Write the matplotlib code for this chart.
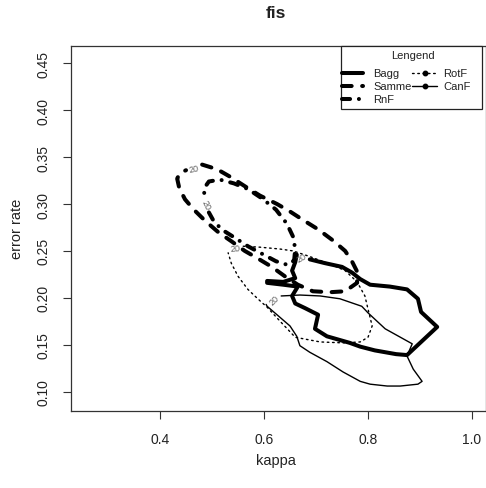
#########################################################
#
#  Kappa / error-rate density contours for the fis data
#  (20% level of each ensemble method)
#
#########################################################

import matplotlib
matplotlib.use('Agg')
from matplotlib import pyplot as plt
from matplotlib.lines import Line2D
from matplotlib.patches import Rectangle

plt.rcParams['font.family'] = ['Liberation Sans', 'DejaVu Sans']

#########################################################
### Contour paths, level 20 (kappa, error rate)
# paths start and stop at the gap left for the "20" label

bagg_kappa = [0.688, 0.717, 0.750, 0.769, 0.785, 0.804, 0.842, 0.875, 0.896, 0.902,
              0.933, 0.875, 0.854, 0.813, 0.785, 0.765, 0.721, 0.698, 0.704, 0.679,
              0.660, 0.654, 0.665, 0.637, 0.606, 0.606, 0.637, 0.660, 0.654, 0.660, 0.663]
bagg_err = [0.241, 0.237, 0.233, 0.227, 0.220, 0.214, 0.212, 0.209, 0.199, 0.185,
            0.169, 0.139, 0.140, 0.144, 0.148, 0.152, 0.159, 0.167, 0.182, 0.189,
            0.194, 0.202, 0.212, 0.214, 0.216, 0.218, 0.217, 0.221, 0.229, 0.238, 0.246]
bagg_label = (0.673, 0.243, 30)

samme_kappa = [0.481, 0.510, 0.535, 0.563, 0.592, 0.625, 0.650, 0.675, 0.704, 0.733,
               0.756, 0.769, 0.779, 0.779, 0.756, 0.727, 0.694, 0.665, 0.640, 0.615,
               0.588, 0.563, 0.538, 0.512, 0.487, 0.465, 0.448, 0.437, 0.433, 0.438, 0.450]
samme_err = [0.342, 0.337, 0.329, 0.319, 0.309, 0.300, 0.292, 0.283, 0.273, 0.261,
             0.250, 0.239, 0.228, 0.216, 0.207, 0.206, 0.207, 0.214, 0.223, 0.233,
             0.242, 0.250, 0.260, 0.270, 0.282, 0.294, 0.305, 0.317, 0.327, 0.333, 0.336]
samme_label = (0.465, 0.338, 12)

rnf_kappa = [0.494, 0.504, 0.521, 0.544, 0.569, 0.596, 0.623, 0.646, 0.658, 0.660,
             0.656, 0.644, 0.623, 0.596, 0.569, 0.542, 0.515, 0.494, 0.485, 0.485]
rnf_err = [0.291, 0.281, 0.272, 0.264, 0.255, 0.247, 0.239, 0.235, 0.240, 0.252,
           0.265, 0.279, 0.294, 0.306, 0.316, 0.322, 0.326, 0.324, 0.317, 0.307]
rnf_label = (0.488, 0.299, -65)

rotf_kappa = [0.560, 0.592, 0.631, 0.656, 0.688, 0.727, 0.756, 0.779, 0.794, 0.800,
              0.808, 0.800, 0.785, 0.752, 0.708, 0.660, 0.631, 0.606, 0.588, 0.569,
              0.550, 0.537, 0.531]
rotf_err = [0.255, 0.254, 0.252, 0.250, 0.244, 0.236, 0.229, 0.217, 0.202, 0.188,
            0.170, 0.158, 0.153, 0.152, 0.153, 0.158, 0.175, 0.190, 0.199, 0.209,
            0.223, 0.237, 0.248]
rotf_label = (0.544, 0.253, 5)

canf_kappa = [0.633, 0.669, 0.708, 0.746, 0.788, 0.800, 0.833, 0.885, 0.875, 0.887,
              0.904, 0.896, 0.862, 0.837, 0.804, 0.785, 0.752, 0.721, 0.688, 0.669,
              0.663, 0.650, 0.627, 0.606, 0.604]
canf_err = [0.202, 0.203, 0.202, 0.199, 0.191, 0.184, 0.167, 0.151, 0.138, 0.124,
            0.111, 0.108, 0.106, 0.106, 0.108, 0.111, 0.121, 0.132, 0.142, 0.149,
            0.159, 0.170, 0.181, 0.191, 0.193]
canf_label = (0.619, 0.198, 45)

level_text = '20'

x_ticks = [0.4, 0.6, 0.8, 1.0]
x_ticklabels = ['0.4', '0.6', '0.8', '1.0']
y_ticks = [0.10, 0.15, 0.20, 0.25, 0.30, 0.35, 0.40, 0.45]
y_ticklabels = ['0.10', '0.15', '0.20', '0.25', '0.30', '0.35', '0.40', '0.45']

#########################################################
### Line styles (R style: lwd 4 for the thick ones)

THICK = 2.9
THIN = 1.0
styles = {
    'Bagg':  dict(lw=THICK, ls='-'),
    'Samme': dict(lw=THICK, ls=(0, (2.4, 2.6))),
    'RnF':   dict(lw=THICK, ls=(0, (2.0, 2.2, 0.01, 2.2))),
    'RotF':  dict(lw=THIN, ls=(0, (1.2, 2.6))),
    'CanF':  dict(lw=THIN, ls='-'),
}

W, H = 486, 489

def fx(px):
    return px / W

def fy(py):
    return 1 - py / H

fig = plt.figure(figsize=(W / 100, H / 100), dpi=100)
ax = fig.add_axes([fx(71), fy(412), (486 - 71) / W, (412 - 47) / H])
ax.set_xlim(0.2288, 1.0269)
ax.set_ylim(0.0794, 0.4684)

paths = [
    ('Bagg', bagg_kappa, bagg_err, bagg_label),
    ('Samme', samme_kappa, samme_err, samme_label),
    ('RnF', rnf_kappa, rnf_err, rnf_label),
    ('RotF', rotf_kappa, rotf_err, rotf_label),
    ('CanF', canf_kappa, canf_err, canf_label),
]
for name, k, e, lab in paths:
    st = styles[name]
    ax.plot(k, e, color='black', lw=st['lw'], ls=st['ls'],
            solid_capstyle='round', dash_capstyle='round', solid_joinstyle='round')
    ax.text(lab[0], lab[1], level_text, rotation=lab[2], fontsize=6.5,
            color='#606060', ha='center', va='center', rotation_mode='anchor')

ax.set_xticks(x_ticks)
ax.set_xticklabels(x_ticklabels)
ax.set_yticks(y_ticks)
ax.set_yticklabels(y_ticklabels, rotation=90, va='center')
ax.tick_params(direction='out', length=5.8, width=0.8, labelsize=10,
               colors='#333333', labelcolor='#222222')
ax.tick_params(axis='x', pad=9)
ax.tick_params(axis='y', pad=9)
for sp in ax.spines.values():
    sp.set_color('#333333')
    sp.set_linewidth(0.9)

fig.text(fx(276), fy(13), 'fis', ha='center', va='center', fontsize=12.5,
         fontweight='bold', color='#222222')
fig.text(fx(276), fy(461), 'kappa', ha='center', va='center', fontsize=10.5,
         color='#222222')
fig.text(fx(17), fy(229), 'error rate', ha='center', va='center', rotation=90,
         fontsize=10.5, color='#222222')

#########################################################
### Legend box

fig.add_artist(Rectangle((fx(341), fy(110)), (482 - 341) / W, (110 - 47) / H,
                         transform=fig.transFigure, facecolor='white',
                         edgecolor='#222222', lw=0.9))
fig.text(fx(413), fy(56), 'Lengend', ha='center', va='center', fontsize=8,
         color='#222222')

legend_rows = [('Bagg', 342, 363, 74), ('Samme', 342, 363, 87), ('RnF', 342, 363, 100),
               ('RotF', 412, 437, 74), ('CanF', 412, 437, 87)]
for name, x0, x1, y in legend_rows:
    st = styles[name]
    marks = [1] if st['lw'] == THIN else []
    fig.add_artist(Line2D([fx(x0), fx((x0 + x1) / 2), fx(x1)], [fy(y)] * 3,
                          transform=fig.transFigure, color='black', lw=st['lw'],
                          ls=st['ls'], solid_capstyle='round', dash_capstyle='round',
                          marker='o', markersize=3.2, markevery=marks))
    fig.text(fx(x1 + 10 if x0 == 342 else x1 + 6), fy(y), name, ha='left',
             va='center', fontsize=8, color='#222222')

fig.savefig('out.png', dpi=100)
